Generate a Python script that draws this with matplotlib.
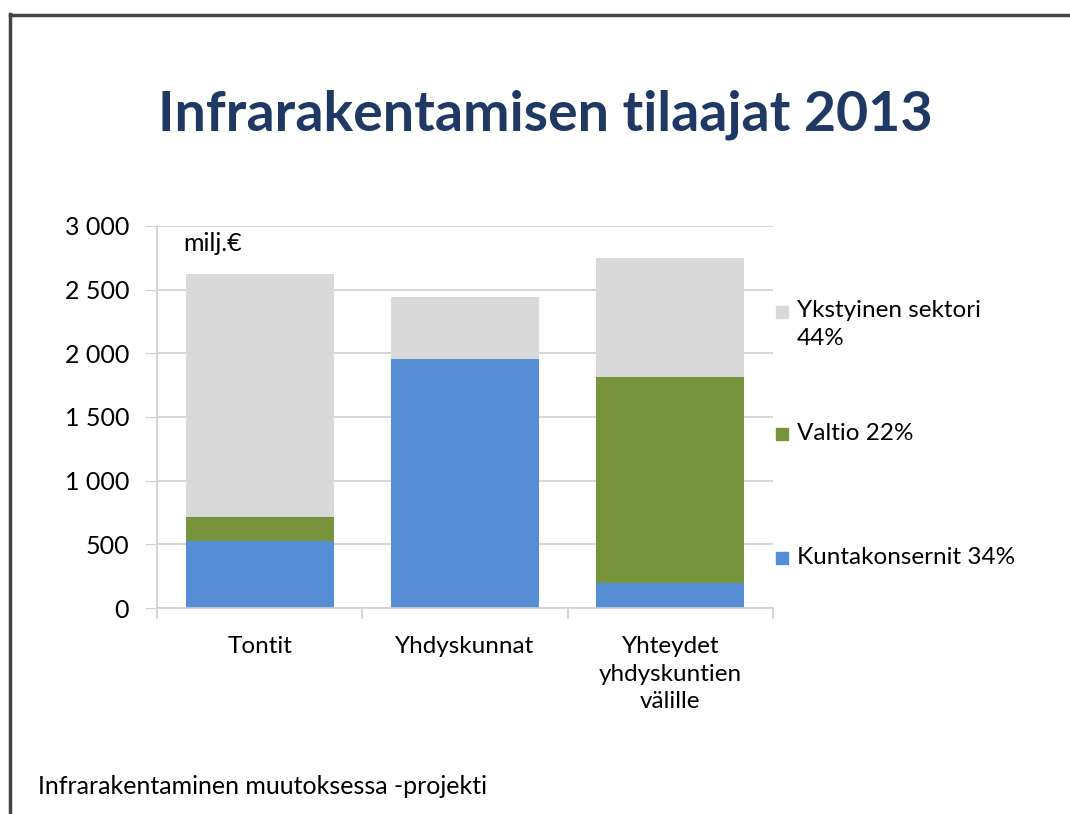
import matplotlib
matplotlib.use("Agg")
import matplotlib.pyplot as plt
from matplotlib.lines import Line2D
from matplotlib.patches import Rectangle

categories = ["Tontit", "Yhdyskunnat", "Yhteydet\nyhdyskuntien\nvälille"]
kunta = [530, 1955, 195]
valtio = [185, 0, 1620]
yksityinen = [1905, 485, 930]
series_labels = ["Kuntakonsernit 34%", "Valtio 22%", "Ykstyinen sektori\n44%"]
colors = ["#558ed5", "#77933c", "#d9d9d9"]

plt.rcParams["font.family"] = ["Lato", "DejaVu Sans"]

W, H = 1070, 814
fig = plt.figure(figsize=(W / 100, H / 100), dpi=100)
ax = fig.add_axes([157 / W, 1 - 608 / H, (773 - 157) / W, (608 - 226) / H])

x = range(len(categories))
bottom = [0, 0, 0]
for vals, col in zip([kunta, valtio, yksityinen], colors):
    ax.bar(x, vals, width=0.72, bottom=bottom, color=col, zorder=2)
    bottom = [b + v for b, v in zip(bottom, vals)]

ax.set_xlim(-0.5, 2.5)
ax.set_ylim(0, 3000)
ax.set_yticks(range(0, 3001, 500))
ax.set_yticklabels([f"{v:,}".replace(",", " ") for v in range(0, 3001, 500)])
ax.yaxis.grid(True, color="#d0d0d0", lw=1.2, zorder=0)
ax.tick_params(axis="y", length=9, color="#d0d0d0", labelsize=18, pad=11)
ax.set_xticks(list(x))
ax.set_xticklabels(categories)
ax.tick_params(axis="x", length=0, labelsize=17.5, pad=20)
ax.set_xticks([-0.5, 0.5, 1.5, 2.5], minor=True)
ax.tick_params(axis="x", which="minor", length=8, color="#d0d0d0", width=1.2)
for s in ["top", "right"]:
    ax.spines[s].set_visible(False)
for s in ["left", "bottom"]:
    ax.spines[s].set_color("#d0d0d0")
    ax.spines[s].set_linewidth(1.2)
for lbl in ax.get_xticklabels():
    lbl.set_linespacing(1.4)

ax.text(0.043, 0.955, "milj.€", transform=ax.transAxes, fontsize=18, va="center")

# legend on the right (marker y, text y in pixels from top)
leg_items = [(2, 312, 300), (1, 434, 434), (0, 558, 558)]
for i, ypx, typx in leg_items:
    fig.patches.append(Rectangle((776 / W, 1 - (ypx + 6) / H), 12 / W, 12 / H,
                                 color=colors[i], transform=fig.transFigure))
    fig.text(797 / W, 1 - typx / H, series_labels[i], fontsize=17.5,
             va="top" if i == 2 else "center", linespacing=1.4)

fig.text(545 / W, 1 - 115 / H, "Infrarakentamisen tilaajat 2013", fontsize=40,
         fontweight="bold", color="#1f3864", ha="center", va="center")
fig.text(38 / W, 1 - 787 / H, "Infrarakentaminen muutoksessa -projekti", fontsize=18,
         va="center")

# slide frame
fig.add_artist(Line2D([10 / W, 10 / W], [0, 1 - 14 / H], color="#444444", lw=2.5))
fig.add_artist(Line2D([10 / W, 1], [1 - 15 / H, 1 - 15 / H], color="#444444", lw=2.5))

fig.savefig("out.png", dpi=100)
